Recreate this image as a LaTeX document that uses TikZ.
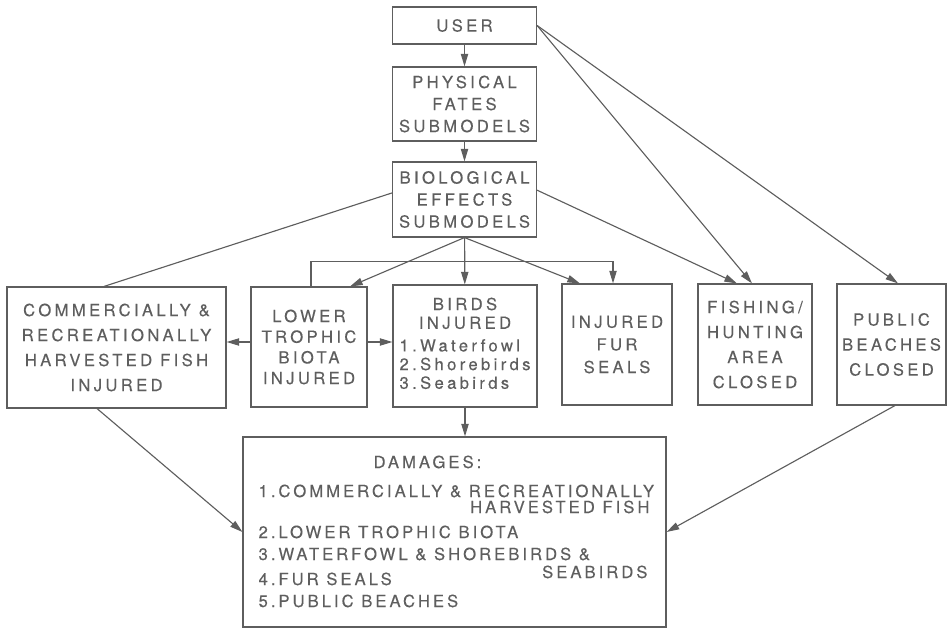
\documentclass[tikz,border=0pt]{standalone}
\usepackage{fontspec}
\newfontfamily\boxfont[LetterSpace=20, FakeBold=0.3]{TeX Gyre Heros}
\newfontfamily\listfont[LetterSpace=18, FakeBold=0.3]{TeX Gyre Heros}
\usetikzlibrary{arrows.meta}

\begin{document}
\begin{tikzpicture}
        [
        x = 0.75pt, y = -0.75pt,
        color = black!63,
        line width = 0.85pt,
        > = {Triangle[length = 9.5pt, width = 5.5pt]},
        block/.style = {
            draw, rectangle,
            align = center,
            inner sep = 0pt,
            font = \boxfont\fontsize{12.5}{16.5}\selectfont,
        },
        boxlead/.style = {
            font = \boxfont\fontsize{12.5}{#1}\selectfont,
        },
        item/.style = {
            inner sep = 0pt,
            font = \listfont\fontsize{12.5}{16.5}\selectfont,
        },
        ]
        \useasboundingbox (0,0) rectangle (952,630);

        % Modellen
        \node[block, minimum width = 108pt, minimum height = 27.75pt] (user) at (464.5,25.5) {USER};
        \node[block, minimum width = 108pt, minimum height = 55.5pt] (phys) at (464.5,104) {PHYSICAL \\ FATES \\ SUBMODELS};
        \node[block, minimum width = 108pt, minimum height = 56.25pt] (bio) at (464.5,199.5) {BIOLOGICAL \\ EFFECTS \\ SUBMODELS};

        % Effecten
        \node[block, boxlead = 18.75, minimum width = 164.25pt, minimum height = 90.75pt] (comm) at (116.5,347.5) {COMMERCIALLY \& \\ RECREATIONALLY \\ HARVESTED FISH \\ INJURED};
        \node[block, boxlead = 15.5, minimum width = 87pt, minimum height = 90pt] (lower) at (309,347) {LOWER \\ TROPHIC \\ BIOTA \\ INJURED};
        \node[block, boxlead = 14, minimum width = 108pt, minimum height = 91.5pt] (birds) at (465,346) {BIRDS \\ INJURED \\[3pt] \begin{tabular}[t]{@{}l@{}}1.Waterfowl \\ 2.Shorebirds \\ 3.Seabirds\end{tabular}};
        \node[block, boxlead = 17, minimum width = 82.5pt, minimum height = 90.75pt] (fur) at (617,344.5) {INJURED \\ FUR \\ SEALS};
        \node[block, boxlead = 18.75, minimum width = 85.5pt, minimum height = 90.75pt] (fish) at (755,344.5) {FISHING/ \\ HUNTING \\ AREA \\ CLOSED};
        \node[block, boxlead = 18.75, minimum width = 81.75pt, minimum height = 90.75pt] (pub) at (891.5,344.5) {PUBLIC \\ BEACHES \\ CLOSED};

        % Schade
        \node[block, minimum width = 317.25pt, minimum height = 142.5pt] (dmg) at (454.5,532) {};
        \node[item, anchor = base west] (dmg_title) at (373,468) {DAMAGES:};
        \node[item, anchor = base west] (dmg_fish) at (258,497) {1.COMMERCIALLY \& RECREATIONALLY};
        \node[item, anchor = base east] (dmg_fish_b) at (650,513) {HARVESTED FISH};
        \node[item, anchor = base west] (dmg_biota) at (258,538) {2.LOWER TROPHIC BIOTA};
        \node[item, anchor = base west] (dmg_birds) at (258,560) {3.WATERFOWL \& SHOREBIRDS \&};
        \node[item, anchor = base east] (dmg_birds_b) at (648,578) {SEABIRDS};
        \node[item, anchor = base west] (dmg_seals) at (258,585) {4.FUR SEALS};
        \node[item, anchor = base west] (dmg_beach) at (258,607) {5.PUBLIC BEACHES};

        \coordinate (row) at (0,342);

        % Verbindingen
        \path
            [
            ->
            ]
            (user) edge (phys)
            (phys) edge (bio)
            (bio.south) edge ([xshift = 30.75pt]lower.north)
            (bio) edge (birds)
            (bio.south) edge ([xshift = -27.75pt]fur.north)
            ([yshift = 7pt]bio.east) edge ([xshift = -13.5pt]fish.north)
            (user.east) edge ([xshift = -2.25pt]fish.north)
            (user.east) edge ([xshift = 4.9pt]pub.north)
            (lower.west |- row) edge (comm.east |- row)
            (lower.east |- row) edge (birds.west |- row)
            (birds.south) edge (birds.south |- dmg.north)
            ([xshift = -14.6pt]comm.south) edge (dmg.west)
            ([xshift = 2.6pt]pub.south) edge (dmg.east);

        \draw ([yshift = 4.9pt]bio.west) -- ([xshift = -9.4pt]comm.north);
        \draw[->] ([xshift = 1.5pt]lower.north) -- ++(0,-25) -| ([xshift = -3pt]fur.north);
    \end{tikzpicture}
\end{document}
